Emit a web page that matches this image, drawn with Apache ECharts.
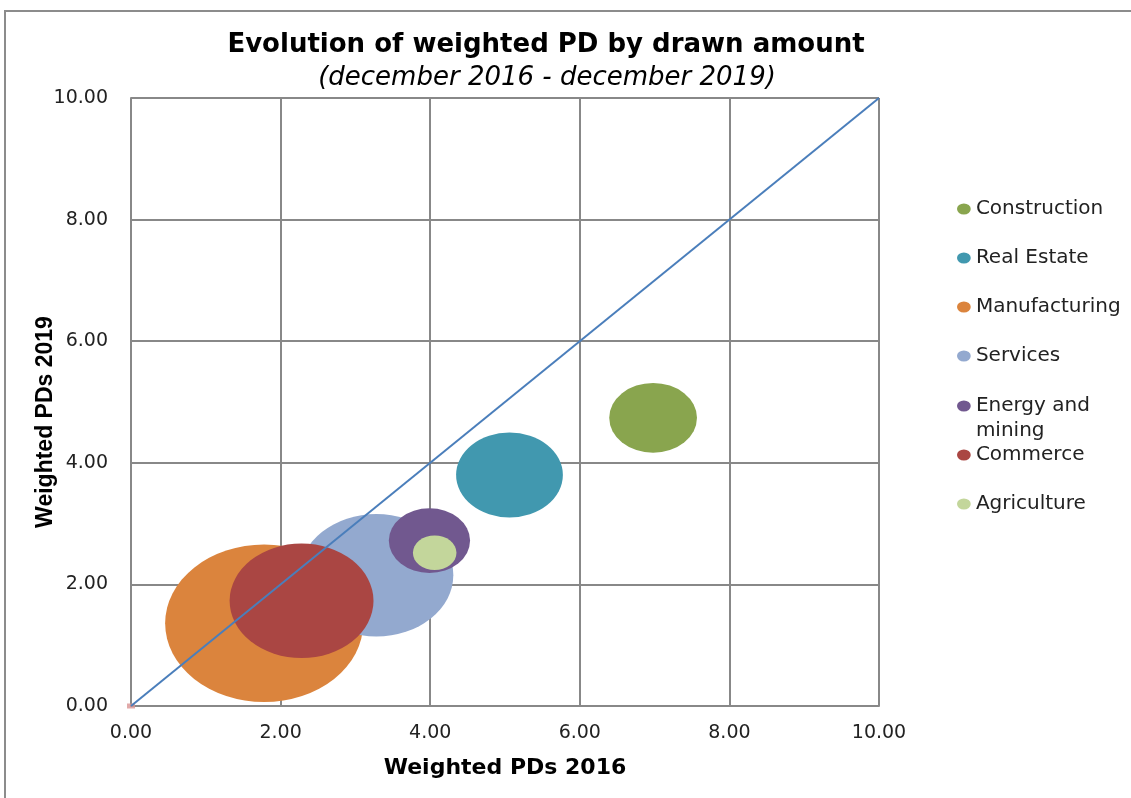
<!DOCTYPE html>
<html>
<head>
<meta charset="utf-8">
<script src="https://cdn.jsdelivr.net/npm/echarts@6/dist/echarts.min.js"></script>
<style>
  html, body { margin: 0; padding: 0; background: #ffffff; }
  #chart { width: 1131px; height: 798px; }
</style>
</head>
<body>
<div id="chart"></div>
<script>
// Sector data: weighted PD in 2016 (x), in 2019 (y) and drawn amount (bubble area)
const categories = ['Construction', 'Real Estate', 'Manufacturing', 'Services', 'Energy and mining', 'Commerce', 'Agriculture'];
const pd2016 = [6.98, 5.06, 1.78, 3.28, 3.99, 2.28, 4.06];
const pd2019 = [4.74, 3.80, 1.36, 2.15, 2.72, 1.73, 2.52];
const drawnAmount = [7.7, 11.4, 39.2, 23.7, 6.6, 20.7, 1.9];
const sectorColors = ['#89a54e', '#4198af', '#db843d', '#93a9cf', '#71588f', '#aa4643', '#c3d69b'];
// Reference diagonal (no change between the two dates)
const diagonal = [[0, 0], [10, 10]];
const origin = [[0, 0]];

const ellipse = 'path://M0,40A50,40 0 1,1 100,40A50,40 0 1,1 0,40Z';
const maxAmount = Math.max(...drawnAmount);
const maxDiameter = 198;
const bubbleSize = (v) => {
  const w = maxDiameter * Math.sqrt(v[2] / maxAmount);
  return [w, w * 0.795];
};

const tickFont = { fontFamily: 'DejaVu Sans', fontSize: 19, color: '#222' };
const gridLine = { color: '#888888', width: 2 };

const bubbleSeries = categories.map((name, i) => ({
  name: name,
  type: 'scatter',
  symbol: ellipse,
  symbolSize: bubbleSize,
  itemStyle: { color: sectorColors[i], opacity: 1 },
  emphasis: { disabled: true },
  z: 2 + i,
  data: [[pd2016[i], pd2019[i], drawnAmount[i]]]
}));

// One legend block per sector so each entry sits at its own row;
// the two-line entry keeps its marker beside the first line
const legendRows = [209, 258, 307, 356, 406, 455, 504];
const legends = categories.map((name, i) => {
  const twoLine = name === 'Energy and mining';
  return {
    data: [name],
    orient: 'vertical',
    left: 957,
    top: twoLine ? legendRows[i] - 37.5 : legendRows[i] - 11,
    padding: 0,
    itemWidth: 14,
    itemHeight: 11,
    icon: ellipse,
    selectedMode: false,
    formatter: twoLine ? '\nEnergy and\nmining' : '{name}',
    textStyle: twoLine
      ? { fontFamily: 'DejaVu Sans', fontSize: 20, color: '#222', lineHeight: 25 }
      : { fontFamily: 'DejaVu Sans', fontSize: 20, color: '#222', lineHeight: 22 }
  };
});

const chart = echarts.init(document.getElementById('chart'), null, { renderer: 'canvas' });
chart.setOption({
  backgroundColor: '#ffffff',
  animation: false,
  title: [
    {
      text: 'Evolution of weighted PD by drawn amount',
      left: 546, top: 32, textAlign: 'center', padding: 0,
      textStyle: { fontFamily: 'DejaVu Sans', fontWeight: 'bold', fontSize: 26, color: '#000' }
    },
    {
      text: '(december 2016 - december 2019)',
      left: 547, top: 65, textAlign: 'center', padding: 0,
      textStyle: { fontFamily: 'DejaVu Sans', fontStyle: 'italic', fontWeight: 'normal', fontSize: 26, color: '#000' }
    }
  ],
  legend: legends,
  grid: { left: 131, right: 252, top: 98, bottom: 92, containLabel: false },
  xAxis: {
    type: 'value', min: 0, max: 10, interval: 2,
    name: 'Weighted PDs 2016', nameLocation: 'middle', nameGap: 51,
    nameTextStyle: { fontFamily: 'DejaVu Sans', fontWeight: 'bold', fontSize: 22, color: '#000' },
    axisLine: { show: true, lineStyle: gridLine },
    axisTick: { show: false },
    axisLabel: Object.assign({ margin: 18, formatter: (v) => v.toFixed(2) }, tickFont),
    splitLine: { show: true, lineStyle: gridLine }
  },
  yAxis: {
    type: 'value', min: 0, max: 10, interval: 2,
    axisLine: { show: true, lineStyle: gridLine },
    axisTick: { show: false },
    axisLabel: Object.assign({ margin: 23, formatter: (v) => v.toFixed(2) }, tickFont),
    splitLine: { show: true, lineStyle: gridLine }
  },
  graphic: [
    {
      // outer chart frame
      type: 'rect', z: -1, silent: true,
      shape: { x: 5, y: 11, width: 1140, height: 800 },
      style: { fill: 'none', stroke: '#8c8c8c', lineWidth: 2 }
    },
    {
      // y axis title
      type: 'text', x: 46, y: 422, rotation: Math.PI / 2, silent: true,
      style: {
        text: 'Weighted PDs 2019', x: 0, y: 0,
        textAlign: 'center', textVerticalAlign: 'middle',
        font: 'bold 23px "Liberation Sans"', fill: '#000'
      }
    }
  ],
  series: bubbleSeries.concat([
    {
      name: 'origin',
      type: 'scatter',
      symbol: 'rect',
      symbolSize: [8, 5],
      itemStyle: { color: '#d99594' },
      z: 1,
      silent: true,
      data: origin
    },
    {
      name: 'diagonal',
      type: 'line',
      data: diagonal,
      showSymbol: false,
      lineStyle: { color: '#4a7ebb', width: 2 },
      z: 20,
      silent: true
    }
  ])
});
</script>
</body>
</html>
